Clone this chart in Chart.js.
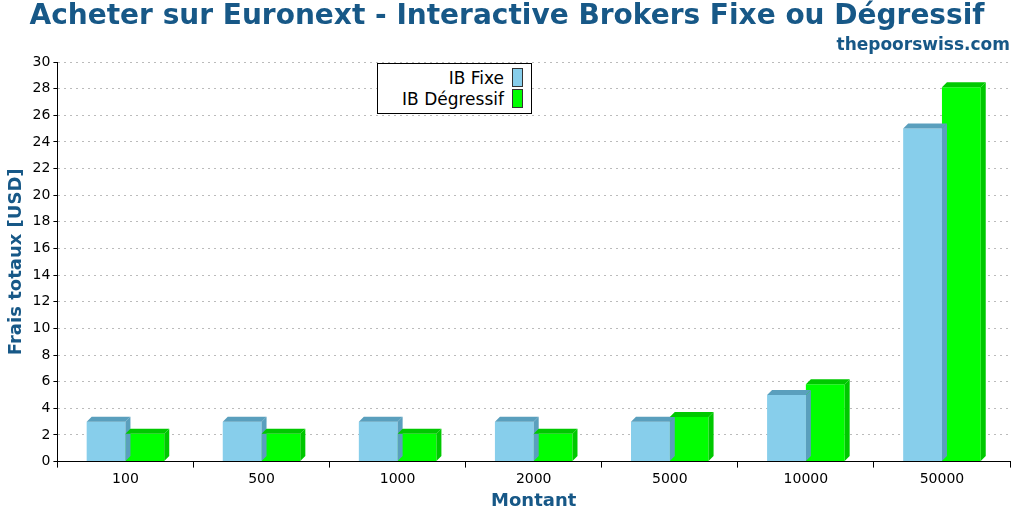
<!DOCTYPE html>
<html>
<head>
<meta charset="utf-8">
<script src="https://cdn.jsdelivr.net/npm/chart.js@4"></script>
<style>
  body { margin: 0; background: #fff; }
  #wrap { position: relative; width: 1024px; height: 512px; }
  #legend {
    position: absolute; left: 377px; top: 63px; width: 155px;
    border: 1px solid #000; background: #fff; padding: 4px 8px 3px 6px;
    font: 17px "DejaVu Sans", sans-serif; text-align: right; line-height: 21px;
    box-sizing: border-box;
  }
  #legend span.sw { display: inline-block; width: 9px; height: 17px; margin-left: 8px; vertical-align: -3px; border: 1px solid #333; }
</style>
</head>
<body>
<div id="wrap">
  <canvas id="chart" width="1024" height="512"></canvas>
  <div id="legend">
    <div>IB Fixe<span class="sw" style="background:#87ceeb"></span></div>
    <div>IB Dégressif<span class="sw" style="background:#00ff00"></span></div>
  </div>
</div>
<script>
// données
const categories = ['100', '500', '1000', '2000', '5000', '10000', '50000'];
const ibFixe = [3, 3, 3, 3, 3, 5, 25];
const ibDegressif = [2.1, 2.1, 2.1, 2.1, 3.35, 5.8, 28.1];

const blueText = '#175887';

// petit effet 3D : face du dessus et face de côté
const bars3d = {
  id: 'bars3d',
  afterDatasetsDraw(chart) {
    const ctx = chart.ctx;
    const d = 5;
    chart.data.datasets.forEach((ds, i) => {
      chart.getDatasetMeta(i).data.forEach(bar => {
        const w = bar.width, x0 = bar.x - w / 2, x1 = bar.x + w / 2;
        const top = bar.y, base = bar.base;
        ctx.save();
        ctx.fillStyle = ds.topColor;
        ctx.beginPath();
        ctx.moveTo(x0, top); ctx.lineTo(x0 + d, top - d);
        ctx.lineTo(x1 + d, top - d); ctx.lineTo(x1, top);
        ctx.closePath(); ctx.fill();
        ctx.fillStyle = ds.sideColor;
        ctx.beginPath();
        ctx.moveTo(x1, top); ctx.lineTo(x1 + d, top - d);
        ctx.lineTo(x1 + d, base - d); ctx.lineTo(x1, base);
        ctx.closePath(); ctx.fill();
        ctx.restore();
      });
    });
  }
};

new Chart(document.getElementById('chart'), {
  type: 'bar',
  data: {
    labels: categories,
    datasets: [
      { label: 'IB Fixe', data: ibFixe, backgroundColor: '#87ceeb', topColor: '#5a9fbd', sideColor: '#5a9fbd' },
      { label: 'IB Dégressif', data: ibDegressif, backgroundColor: '#00ff00', topColor: '#00c800', sideColor: '#00c800' }
    ]
  },
  options: {
    responsive: false,
    animation: false,
    layout: { padding: { left: 4, right: 14, top: 0, bottom: 0 } },
    datasets: { bar: { barPercentage: 1, categoryPercentage: 0.57 } },
    plugins: {
      legend: { display: false },
      tooltip: { enabled: false },
      title: {
        display: true, text: 'Acheter sur Euronext - Interactive Brokers Fixe ou Dégressif',
        color: blueText, font: { family: 'DejaVu Sans', size: 28, weight: 'bold' },
        padding: { top: 0, bottom: 0 }
      },
      subtitle: {
        display: true, text: 'thepoorswiss.com', align: 'end',
        color: blueText, font: { family: 'DejaVu Sans', size: 17, weight: 'bold' },
        padding: { top: 2, bottom: 6 }
      }
    },
    scales: {
      x: {
        grid: { display: true, drawOnChartArea: false, offset: true, color: '#000', tickLength: 6 },
        border: { color: '#000' },
        ticks: { color: '#000', font: { family: 'DejaVu Sans', size: 14 } },
        title: { display: true, text: 'Montant', color: blueText, padding: 0,
                 font: { family: 'DejaVu Sans', size: 18, weight: 'bold' } }
      },
      y: {
        min: 0, max: 30,
        ticks: { stepSize: 2, color: '#000', font: { family: 'DejaVu Sans', size: 14 } },
        grid: { color: '#bbb', tickColor: '#000', tickLength: 4, tickBorderDash: [], borderDash: [2, 4] },
        border: { color: '#000', dash: [2, 4] },
        title: { display: true, text: 'Frais totaux [USD]', color: blueText, padding: 2,
                 font: { family: 'DejaVu Sans', size: 18, weight: 'bold' } }
      }
    }
  },
  plugins: [bars3d]
});
</script>
</body>
</html>
